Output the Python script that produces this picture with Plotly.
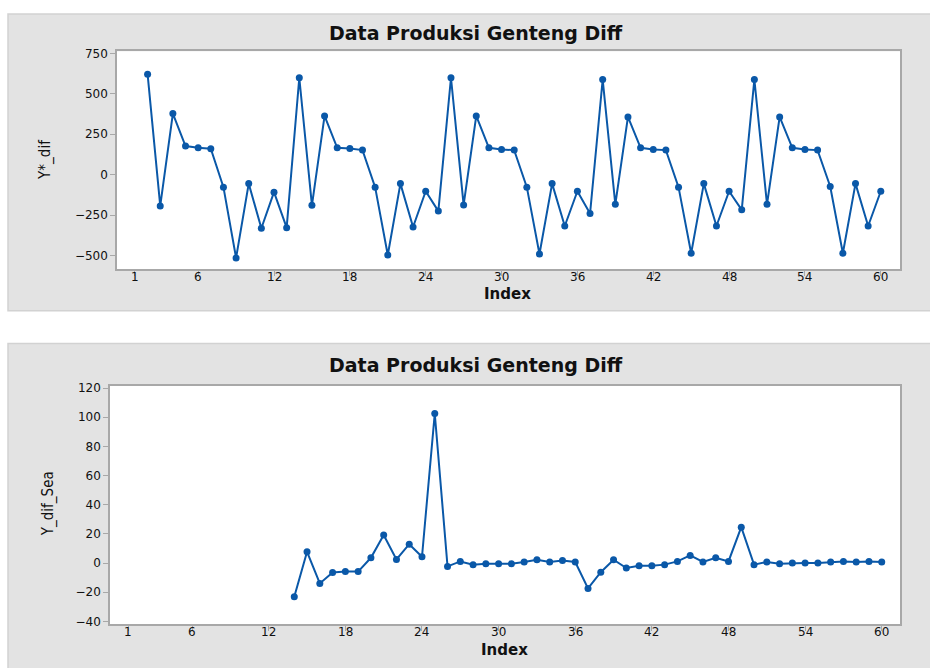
import plotly.graph_objects as go

# Series 1: first difference (index 2..60)
idx_dif = list(range(2, 61))
y_dif = [621, -193, 378, 177, 166, 160, -77, -514, -55, -331, -108, -327,
         599, -189, 363, 166, 162, 152, -77, -496, -55, -323, -102, -225,
         599, -187, 363, 166, 156, 152, -77, -490, -55, -317, -102, -240,
         588, -183, 357, 166, 156, 152, -77, -485, -55, -317, -102, -217,
         588, -183, 357, 166, 156, 152, -73, -485, -55, -317, -102]

# Series 2: seasonal difference (index 14..60)
idx_sea = list(range(14, 61))
y_sea = [-23.2, 7.7, -14.0, -6.5, -5.9, -5.9, 3.6, 19.2, 2.5, 12.9, 4.3, 102.6,
         -2.3, 1.1, -1.1, -0.5, -0.5, -0.5, 0.7, 2.3, 0.7, 1.8, 0.7, -17.4,
         -6.3, 2.3, -3.4, -1.8, -1.8, -1.1, 1.1, 5.2, 0.7, 3.6, 1.1, 24.6,
         -1.1, 0.7, -0.5, 0.0, 0.0, 0.0, 0.7, 1.1, 0.7, 1.1, 0.7]

x_ticks = [1, 6, 12, 18, 24, 30, 36, 42, 48, 54, 60]
y1_ticks = [-500, -250, 0, 250, 500, 750]
y2_ticks = [-40, -20, 0, 20, 40, 60, 80, 100, 120]

title_text = "Data Produksi Genteng Diff"
W, H = 930, 668
BLUE = "#0A58A8"
PANEL = "#E3E3E3"


def px(v):
    return v / W


def py(v):
    return 1 - v / H


fig = go.Figure()
fig.add_trace(go.Scatter(x=idx_dif, y=y_dif, mode="lines+markers",
                         line=dict(color=BLUE, width=2),
                         marker=dict(color=BLUE, size=7),
                         xaxis="x", yaxis="y", showlegend=False))
fig.add_trace(go.Scatter(x=idx_sea, y=y_sea, mode="lines+markers",
                         line=dict(color=BLUE, width=2),
                         marker=dict(color=BLUE, size=7),
                         xaxis="x2", yaxis="y2", showlegend=False))

tick_font = dict(family="DejaVu Sans", size=12, color="#111111")
axis_common = dict(showline=True, mirror=True, linecolor="#A8A8A8", linewidth=1.5,
                   showgrid=False, zeroline=False, ticks="outside", ticklen=5,
                   tickcolor="#A8A8A8", tickfont=tick_font, fixedrange=True)

# plot-area rectangles (pixel coordinates of the page)
area1 = (117, 900, 47, 268)
area2 = (110, 900, 385.7, 627.7)

fig.update_layout(
    width=W, height=H,
    margin=dict(l=0, r=0, t=0, b=0),
    paper_bgcolor="white",
    plot_bgcolor="white",
    xaxis=dict(domain=[px(area1[0]), px(area1[1])], anchor="y", range=[-0.42, 61.52],
               tickvals=x_ticks, showticklabels=False, **axis_common),
    yaxis=dict(domain=[py(area1[3]), py(area1[2])], anchor="x", range=[-585, 762],
               tickvals=y1_ticks, **axis_common),
    xaxis2=dict(domain=[px(area2[0]), px(area2[1])], anchor="y2", range=[-0.43, 61.43],
                tickvals=x_ticks, showticklabels=False, **axis_common),
    yaxis2=dict(domain=[py(area2[3]), py(area2[2])], anchor="x2", range=[-42.0, 121.8],
                tickvals=y2_ticks, **axis_common),
    shapes=[
        dict(type="rect", xref="paper", yref="paper", layer="below",
             x0=px(8), x1=px(940), y0=py(310), y1=py(9),
             fillcolor=PANEL, line=dict(color="#D2D2D2", width=1.5)),
        dict(type="rect", xref="paper", yref="paper", layer="below",
             x0=px(8), x1=px(940), y0=py(680), y1=py(343),
             fillcolor=PANEL, line=dict(color="#D2D2D2", width=1.5)),
        dict(type="rect", xref="paper", yref="paper", layer="below",
             x0=px(area1[0]), x1=px(area1[1]), y0=py(area1[3]), y1=py(area1[2]),
             fillcolor="white", line=dict(width=0)),
        dict(type="rect", xref="paper", yref="paper", layer="below",
             x0=px(area2[0]), x1=px(area2[1]), y0=py(area2[3]), y1=py(area2[2]),
             fillcolor="white", line=dict(width=0)),
    ],
)

title_font = dict(family="DejaVu Sans", size=19, color="#111111", weight="bold")
label_font = dict(family="DejaVu Sans", size=15, color="#111111", weight="bold")
ylab_font = dict(family="Liberation Sans Narrow, DejaVu Sans Condensed, sans-serif",
                 size=15, color="#111111")

annotations = [
    dict(text=title_text, x=px(476), y=py(28), font=title_font),
    dict(text=title_text, x=px(476), y=py(365), font=title_font),
    dict(text="Index", x=px(507), y=py(293), font=label_font),
    dict(text="Index", x=px(505), y=py(654), font=label_font),
    dict(text="Y*_dif", x=px(46), y=py(157), font=ylab_font, textangle=-90),
    dict(text="Y_dif_Sea", x=px(48), y=py(506), font=ylab_font, textangle=-90),
]
for a in annotations:
    fig.add_annotation(xref="paper", yref="paper", showarrow=False,
                       xanchor="center", yanchor="middle", **a)

# x tick labels placed just under the tick marks of each index axis
for xa, ylab in (("x", 276), ("x2", 636)):
    for t in x_ticks:
        fig.add_annotation(xref=xa, yref="paper", x=t, y=py(ylab), text=str(t),
                           showarrow=False, xanchor="center", yanchor="middle",
                           font=tick_font)

fig.write_html("out.html")
